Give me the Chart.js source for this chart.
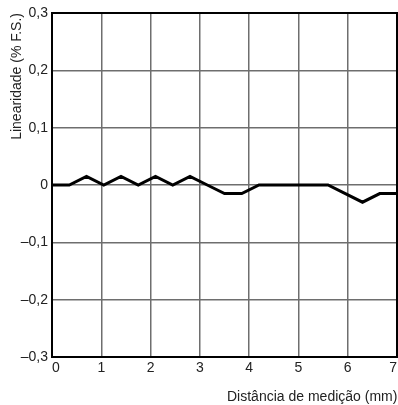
<!DOCTYPE html>
<html>
<head>
<meta charset="utf-8">
<script src="https://cdn.jsdelivr.net/npm/chart.js@4/dist/chart.umd.min.js"></script>
<style>
  html, body { margin: 0; padding: 0; background: #fff; }
  #wrap { width: 398px; height: 405px; }
</style>
</head>
<body>
<div id="wrap"><canvas id="chart"></canvas></div>
<script>
// distance (mm) and linearity (% F.S.)
var distance = [0, 0.35, 0.7, 1.05, 1.4, 1.75, 2.1, 2.45, 2.8, 3.15, 3.5, 3.85, 4.2, 5.6, 6.3, 6.65, 7];
var linearity = [0, 0, 0.015, 0, 0.015, 0, 0.015, 0, 0.015, 0, -0.015, -0.015, 0, 0, -0.03, -0.015, -0.015];
var xTitle = 'Distância de medição (mm)';
var yTitle = 'Linearidade (% F.S.)';

var points = distance.map(function(d, i) {
	return { x: d, y: linearity[i] };
});

function fmt(v) {
	var s = Math.abs(v) < 1e-9 ? '0' : v.toFixed(1).replace('.', ',');
	return s.replace('-', '\u2013');
}

var font = 'Liberation Sans, Arial, Helvetica, sans-serif';
var gridColor = '#6e6e6e';

new Chart(document.getElementById('chart').getContext('2d'), {
	type: 'scatter',
	data: {
		datasets: [{
			data: points,
			showLine: true,
			borderColor: '#000',
			borderWidth: 3,
			pointRadius: 0,
			tension: 0
		}]
	},
	options: {
		responsive: true,
		maintainAspectRatio: false,
		animation: false,
		layout: { padding: { top: 13, right: 1, left: 0, bottom: 0 } },
		plugins: { legend: { display: false }, tooltip: { enabled: false } },
		scales: {
			x: {
				type: 'linear',
				min: 0,
				max: 7,
				ticks: { stepSize: 1, color: '#222', font: { family: font, size: 14 }, padding: 3, maxRotation: 0,
					align: 'inner', callback: function(v) { return String(v); } },
				grid: { color: gridColor, lineWidth: 1.5, drawTicks: false },
				border: { color: '#000', width: 2 },
				afterFit: function(s) { s.height = 48; s.paddingRight = 0; s.paddingLeft = 0; }
			},
			y: {
				min: -0.3,
				max: 0.3,
				ticks: { stepSize: 0.1, color: '#222', font: { family: font, size: 14 }, padding: 4,
					callback: function(v) { return fmt(v); } },
				grid: { color: gridColor, lineWidth: 1.5, drawTicks: false },
				border: { color: '#000', width: 2 },
				afterFit: function(s) { s.width = 52; s.paddingTop = 0; s.paddingBottom = 0; }
			}
		}
	},
	plugins: [{
		id: 'frame',
		afterDraw: function(chart) {
			var a = chart.chartArea, c = chart.ctx;
			c.save();
			c.strokeStyle = '#000';
			c.lineWidth = 2;
			c.strokeRect(a.left, a.top, a.right - a.left, a.bottom - a.top);
			// axis titles
			c.fillStyle = '#222';
			c.font = '14px ' + font;
			c.textBaseline = 'alphabetic';
			c.textAlign = 'left';
			c.fillText(xTitle, 227, 401);
			c.translate(21, a.top);
			c.rotate(-Math.PI / 2);
			c.textAlign = 'right';
			c.fillText(yTitle, 0, 0);
			c.restore();
		}
	}]
});
</script>
</body>
</html>
